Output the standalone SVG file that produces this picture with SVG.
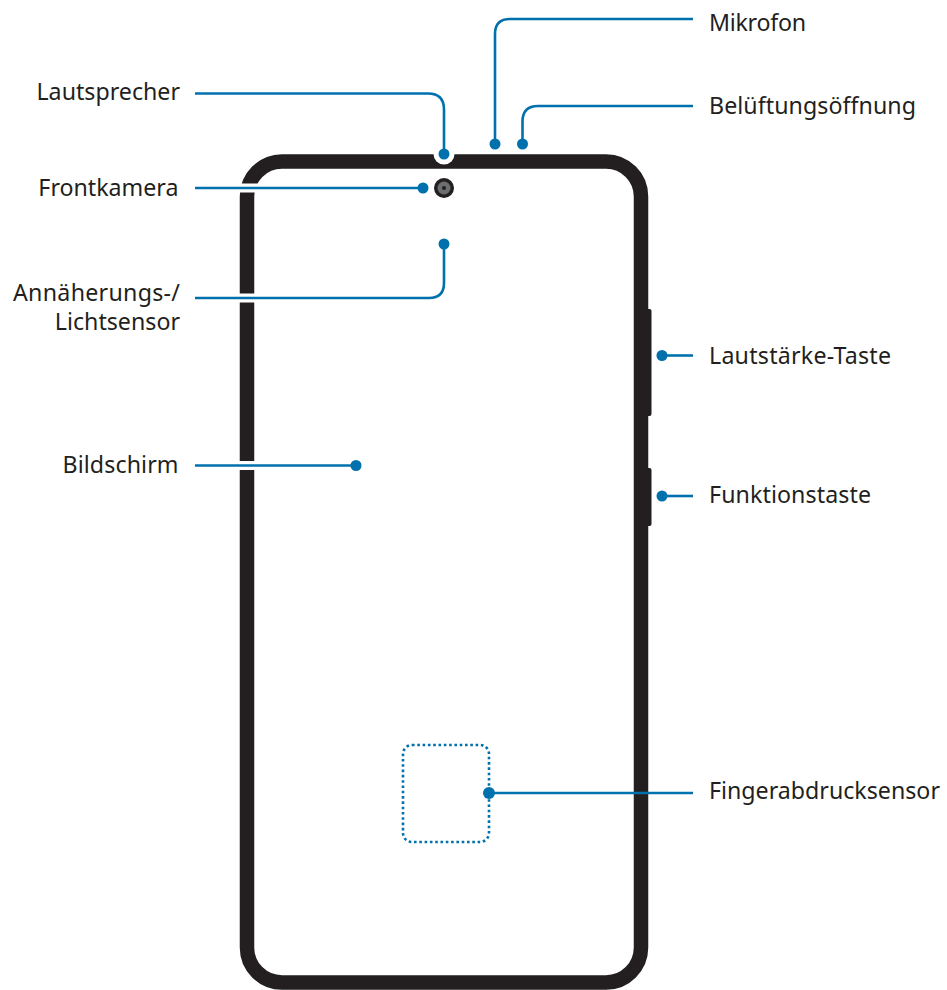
<svg xmlns="http://www.w3.org/2000/svg" width="947" height="990" viewBox="0 0 947 990">
<style>
.frame{fill:none;stroke:#231f20;stroke-width:14.5}
.key{fill:#231f20}
.halo{fill:none;stroke:#fff;stroke-width:9}
.lead{fill:none;stroke:#0071ad;stroke-width:2.6}
.dot{fill:#0071ad}
.lbl{font-family:"Noto Sans","Open Sans",sans-serif;font-size:23.2px;fill:#231f20}
.end{text-anchor:end}
</style>
<rect width="947" height="990" fill="#fff"/>
<g id="phone">
<rect class="frame" x="247" y="161.500" width="394" height="821" rx="35" ry="35"/>
<path class="key" d="M648 309h1.500q2 0 2 2v103q0 2-2 2H648z"/>
<path class="key" d="M648 468h1.500q2 0 2 2v54q0 2-2 2H648z"/>
<circle cx="444" cy="154" r="10.500" fill="#fff"/>
<circle cx="444" cy="188" r="10" fill="#231f20"/>
<circle cx="444" cy="188" r="6.500" fill="#6d6e70"/>
<circle cx="444" cy="188" r="2" fill="#231f20"/>
</g>
<rect id="fingerprint-area" x="403" y="745" width="86" height="97" rx="9" fill="none" stroke="#0071ad" stroke-width="2.600" stroke-dasharray="2.600 2.700"/>
<g id="connectors">
<path class="halo" d="M230 188H262M230 298H262M230 465.500H262"/>
<path class="lead" d="M195 93.500H428Q444 93.500 444 109.500V154"/>
<path class="lead" d="M693 19H510Q495 19 495 34V144"/>
<path class="lead" d="M693 106H538Q522.500 106 522.500 121.500V144"/>
<path class="lead" d="M195 188H423"/>
<path class="lead" d="M195 298H429Q444 298 444 283V244"/>
<path class="lead" d="M195 465.500H356"/>
<path class="lead" d="M662 355.500H693"/>
<path class="lead" d="M662 496H693"/>
<path class="lead" d="M489 793H693"/>
</g>
<g id="dots">
<circle class="dot" cx="444" cy="154" r="5.500"/>
<circle class="dot" cx="495" cy="144" r="5.500"/>
<circle class="dot" cx="522.500" cy="144" r="5.500"/>
<circle class="dot" cx="423" cy="188" r="5.500"/>
<circle class="dot" cx="444" cy="244" r="5.500"/>
<circle class="dot" cx="356" cy="465.500" r="5.500"/>
<circle class="dot" cx="662" cy="355.500" r="5.500"/>
<circle class="dot" cx="662" cy="496" r="5.500"/>
<circle class="dot" cx="489" cy="793" r="6"/>
</g>
<g id="labels">
<text class="lbl end" x="180" y="100">Lautsprecher</text>
<text class="lbl end" x="178.500" y="196">Frontkamera</text>
<text class="lbl end" x="180" y="301" textLength="167">Annäherungs-/</text>
<text class="lbl end" x="180" y="330">Lichtsensor</text>
<text class="lbl end" x="178.500" y="473" textLength="116">Bildschirm</text>
<text class="lbl" x="709" y="31" textLength="97">Mikrofon</text>
<text class="lbl" x="709" y="114" textLength="207">Belüftungsöffnung</text>
<text class="lbl" x="709" y="364" textLength="182">Lautstärke-Taste</text>
<text class="lbl" x="709" y="503" textLength="162">Funktionstaste</text>
<text class="lbl" x="709" y="799">Fingerabdrucksensor</text>
</g>
</svg>
